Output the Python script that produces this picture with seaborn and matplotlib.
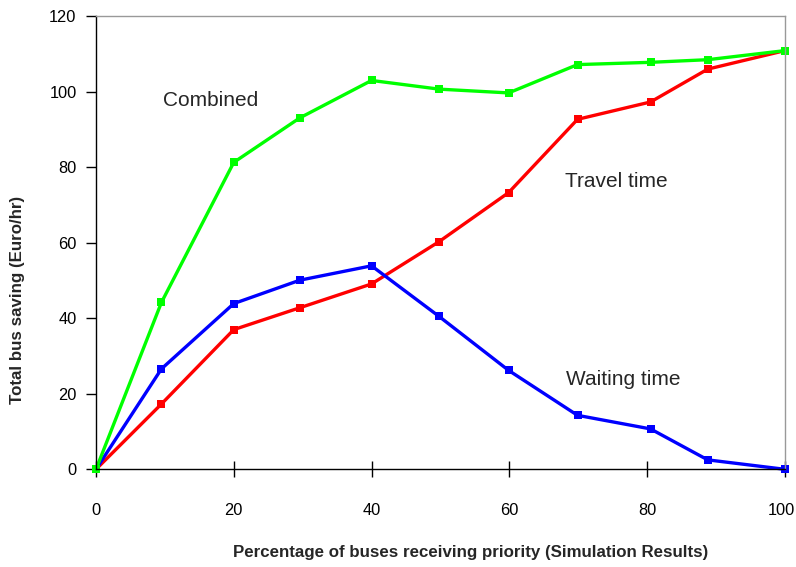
import matplotlib
matplotlib.use("Agg")
import matplotlib.pyplot as plt
import matplotlib.transforms as mtransforms
import seaborn as sns
import pandas as pd

x_pct = [0, 9.5, 20, 29.6, 40, 49.8, 59.9, 69.9, 80.5, 88.8, 100]
travel_time = [0, 17.3, 37.0, 42.8, 49.1, 60.3, 73.3, 92.7, 97.3, 106.0, 110.9]
waiting_time = [0, 26.6, 43.9, 50.1, 53.9, 40.5, 26.2, 14.3, 10.7, 2.5, 0.0]
combined = [0, 44.2, 81.3, 93.1, 103.0, 100.7, 99.7, 107.2, 107.8, 108.5, 110.9]

series_names = ["Travel time", "Waiting time", "Combined"]
series_values = [travel_time, waiting_time, combined]
colors = {"Travel time": "#ff0000", "Waiting time": "#0000ff", "Combined": "#00ff00"}

rows = []
for name, vals in zip(series_names, series_values):
    for xv, yv in zip(x_pct, vals):
        rows.append({"x": xv, "y": yv, "series": name})
df = pd.DataFrame(rows)

sns.set_style("white")
plt.rcParams["font.family"] = ["Liberation Sans", "DejaVu Sans"]

fig = plt.figure(figsize=(7.96, 5.67), dpi=100)
ax = fig.add_axes([0.1206, 0.1723, 0.8654, 0.799])

sns.lineplot(data=df, x="x", y="y", hue="series", hue_order=series_names,
             palette=colors, marker="s", markersize=6, markeredgewidth=0,
             linewidth=2.4, legend=False, ax=ax, sort=False)

ax.set_xlim(0, 100)
ax.set_ylim(0, 120)
ax.set_xticks([0, 20, 40, 60, 80, 100])
ax.set_yticks([0, 20, 40, 60, 80, 100, 120])

for s in ["left", "bottom"]:
    ax.spines[s].set_color("black")
    ax.spines[s].set_linewidth(1.0)
for s in ["top", "right"]:
    ax.spines[s].set_color("#999999")
    ax.spines[s].set_linewidth(1.0)

ax.tick_params(axis="y", direction="out", length=7, width=1, pad=7,
               labelsize=11.8, left=True, colors="black")
ax.tick_params(axis="x", direction="inout", length=12, width=1, pad=18,
               labelsize=11.8, bottom=True, colors="black")

# nudge the last x tick label so it stays inside the figure
last = ax.get_xticklabels()[-1]
last.set_transform(last.get_transform() +
                   mtransforms.ScaledTranslation(-3 / 100, 0, fig.dpi_scale_trans))

ax.set_xlabel("Percentage of buses receiving priority (Simulation Results)",
              fontsize=12.2, fontweight="bold")
ax.set_ylabel("Total bus saving (Euro/hr)", fontsize=12.2, fontweight="bold")
ax.xaxis.set_label_coords(0.544, -0.168)
ax.yaxis.set_label_coords(-0.103, 0.3737)

ax.text(9.7, 97.6, "Combined", fontsize=15, va="center", ha="left")
ax.text(68.1, 76.2, "Travel time", fontsize=15, va="center", ha="left")
ax.text(68.2, 23.7, "Waiting time", fontsize=15, va="center", ha="left")

for line in ax.lines:
    line.set_clip_on(False)

fig.savefig("out.png", dpi=100)
